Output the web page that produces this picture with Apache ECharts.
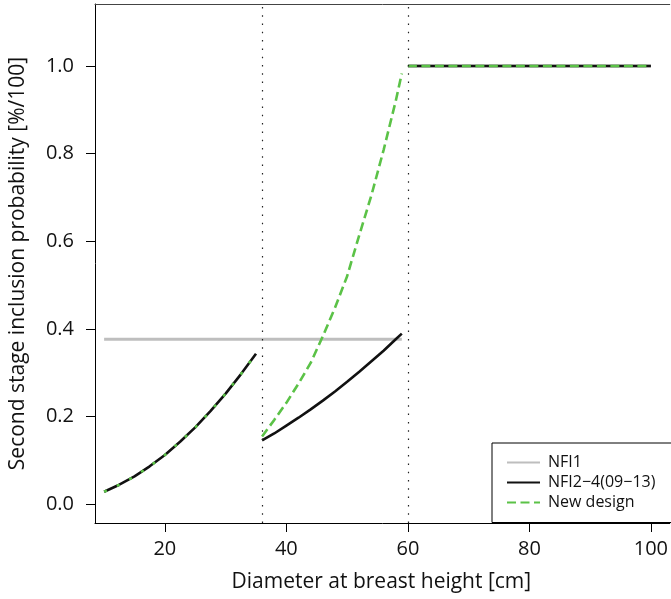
<!DOCTYPE html>
<html>
<head>
<meta charset="utf-8">
<script src="https://cdn.jsdelivr.net/npm/echarts@6/dist/echarts.min.js"></script>
<style>html,body{margin:0;padding:0;background:#fff;}#c{width:671px;height:599px;}</style>
</head>
<body>
<div id="c"></div>
<script>
// Diameters and values
const dSmall = [10, 12.5, 15, 17.5, 20, 22.5, 25, 27.5, 30, 32.5, 35];
const nfi24Small = [0.028, 0.044, 0.063, 0.086, 0.112, 0.142, 0.175, 0.212, 0.252, 0.296, 0.343];
const newSmall = [0.028, 0.044, 0.063, 0.086, 0.112, 0.142, 0.175, 0.212, 0.252, 0.296, 0.343];
const dMid = [36, 38, 40, 42, 44, 46, 48, 50, 52, 54, 56, 58, 59];
const nfi24Mid = [0.145, 0.161, 0.179, 0.197, 0.216, 0.236, 0.257, 0.279, 0.302, 0.326, 0.350, 0.376, 0.389];
const newMid = [0.154, 0.192, 0.231, 0.275, 0.322, 0.383, 0.448, 0.520, 0.614, 0.705, 0.808, 0.920, 0.983];
const dNfi1 = [10, 59];
const nfi1Low = [0.376, 0.376];
const dLarge = [60, 100];
const allLarge = [1.0, 1.0];
const thresholds = [36, 60];
const xTicks = [20, 40, 60, 80, 100];
const yTicks = [0, 0.2, 0.4, 0.6, 0.8, 1.0];
const seriesNames = ['NFI1', 'NFI2\u22124(09\u221213)', 'New design'];

function pairs(xs, ys) { return xs.map((x, i) => [x, ys[i]]); }
function joinSegs(segs) {
  const out = [];
  segs.forEach((s, i) => { if (i > 0) out.push([(out[out.length-1][0] + s[0][0]) / 2, null]); out.push(...s); });
  return out;
}

const FONT = 'Open Sans';
const GREEN = '#5bc247';
const chart = echarts.init(document.getElementById('c'), null, {renderer: 'canvas'});
chart.setOption({
  animation: false,
  backgroundColor: '#fff',
  grid: {left: 93.5, top: 4, right: 0, bottom: 76, show: false, containLabel: false},
  legend: {
    data: seriesNames,
    orient: 'vertical',
    left: 492, top: 443,
    itemWidth: 33, itemHeight: 14, itemGap: 4,
    padding: [11.5, 90, 12, 14],
    borderColor: '#000', borderWidth: 1,
    backgroundColor: '#fff',
    itemStyle: {opacity: 0},
    textStyle: {fontFamily: FONT, fontSize: 16, color: '#111', padding: [0, 0, 0, 3]}
  },
  xAxis: [{
    type: 'value', min: 8.5, max: 103.1,
    splitLine: {show: false},
    axisLine: {show: true, onZero: false, lineStyle: {color: '#000', width: 1}},
    axisTick: {show: true, length: 9, lineStyle: {color: '#000'}, customValues: xTicks},
    axisLabel: {customValues: xTicks, fontFamily: FONT, fontSize: 20, color: '#111', margin: 16},
    name: 'Diameter at breast height [cm]', nameLocation: 'middle', nameGap: 49,
    nameTextStyle: {fontFamily: FONT, fontSize: 21, color: '#111', padding: [0, 2, 0, 0]}
  }, {
    type: 'value', position: 'top', min: 8.5, max: 103.1,
    splitLine: {show: false},
    axisLine: {show: true, onZero: false, lineStyle: {color: '#444', width: 1}},
    axisTick: {show: false}, axisLabel: {show: false}
  }],
  yAxis: {
    type: 'value', min: -0.0434, max: 1.1416,
    splitLine: {show: false},
    axisLine: {show: true, onZero: false, lineStyle: {color: '#000', width: 1}},
    axisTick: {show: true, length: 9, lineStyle: {color: '#000'}, customValues: yTicks},
    axisLabel: {customValues: yTicks, formatter: v => v.toFixed(1), fontFamily: FONT, fontSize: 20, color: '#111', margin: 21},
    name: 'Second stage inclusion probability [%/100]', nameLocation: 'middle', nameGap: 66,
    nameTextStyle: {fontFamily: FONT, fontSize: 21, color: '#111'}
  },
  series: [
    {
      name: seriesNames[0], type: 'line', symbol: 'none', connectNulls: false, z: 1,
      lineStyle: {color: '#bebebe', width: 3}, itemStyle: {color: '#bebebe'},
      data: joinSegs([pairs(dNfi1, nfi1Low), pairs(dLarge, allLarge)]),
      markLine: {
        silent: true, symbol: 'none', label: {show: false},
        lineStyle: {color: '#222', width: 1.2, type: [1.5, 6.8]},
        data: thresholds.map(t => ({xAxis: t}))
      }
    },
    {
      name: seriesNames[2], type: 'line', symbol: 'none', connectNulls: false, z: 3,
      lineStyle: {color: GREEN, width: 2.6, type: [9, 4.5]}, itemStyle: {color: GREEN},
      data: joinSegs([pairs(dMid, newMid), pairs(dLarge, allLarge)])
    },
    {
      name: seriesNames[1], type: 'line', symbol: 'none', connectNulls: false, z: 2,
      lineStyle: {color: '#111', width: 2.6}, itemStyle: {color: '#111'},
      data: joinSegs([pairs(dSmall, nfi24Small), pairs(dMid, nfi24Mid), pairs(dLarge, allLarge)])
    },
    {
      name: seriesNames[2], type: 'line', symbol: 'none', connectNulls: false, z: 4,
      lineStyle: {color: GREEN, width: 2.6, type: [3, 11]}, itemStyle: {color: GREEN},
      data: pairs(dSmall, newSmall)
    }
  ]
});
</script>
</body>
</html>
